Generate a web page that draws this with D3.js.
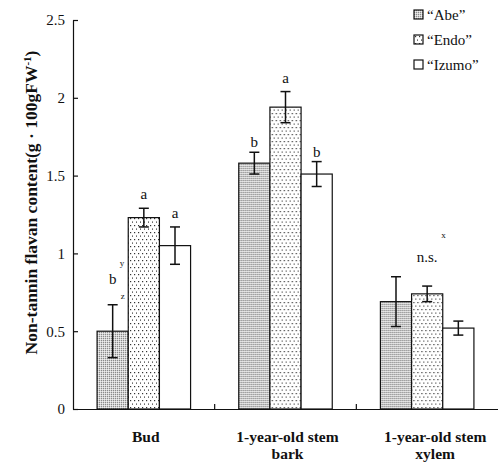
<!DOCTYPE html>
<html lang="en">
<head>
    <meta charset="UTF-8">
    <title>Non-tannin flavan content</title>
    <script src="https://d3js.org/d3.v7.min.js"></script>
    <style>
        body { margin: 0; background: #fff; }
        svg { display: block; }
        text { font-family: "Liberation Serif", "Times New Roman", serif; fill: #111; }
        .axis path, .axis line { stroke: #111; stroke-width: 1.2px; }
        .bar { stroke: #111; stroke-width: 1.2px; }
        .err { stroke: #111; stroke-width: 1.5px; }
    </style>
</head>
<body>
    <svg width="498" height="462"></svg>

    <script>
        // Data
        const tissues = ["Bud", "1-year-old stem bark", "1-year-old stem xylem"];
        const cultivars = ["Abe", "Endo", "Izumo"];
        const means = [
            [0.50, 1.23, 1.05],
            [1.58, 1.94, 1.51],
            [0.69, 0.74, 0.52]
        ];
        const errors = [
            [0.17, 0.06, 0.12],
            [0.07, 0.10, 0.08],
            [0.16, 0.05, 0.045]
        ];
        const letters = [
            ["b", "a", "a"],
            ["b", "a", "b"],
            ["", "", ""]
        ];
        const yTicks = [0, 0.5, 1, 1.5, 2, 2.5];

        const svg = d3.select("svg");
        const margin = { left: 73, top: 20, right: 0, bottom: 53 };
        const width = 498, height = 462;

        const x = d3.scaleBand().domain(tissues).range([margin.left, width]).padding(0);
        const xInner = d3.scaleBand().domain(cultivars)
            .range([x.bandwidth() * 0.17, x.bandwidth() * 0.83]).padding(0);
        const y = d3.scaleLinear().domain([0, 2.5]).range([height - margin.bottom, margin.top]);

        // Patterns
        const defs = svg.append("defs");
        const pAbe = defs.append("pattern").attr("id", "abe")
            .attr("width", 2).attr("height", 2).attr("patternUnits", "userSpaceOnUse");
        pAbe.append("rect").attr("width", 2).attr("height", 2).attr("fill", "#d2d2d2");
        pAbe.append("rect").attr("width", 1).attr("height", 1).attr("fill", "#8a8a8a");
        pAbe.append("rect").attr("x", 1).attr("y", 1).attr("width", 1).attr("height", 1).attr("fill", "#eeeeee");

        const pEndo = defs.append("pattern").attr("id", "endo")
            .attr("width", 4).attr("height", 7).attr("patternUnits", "userSpaceOnUse");
        pEndo.append("rect").attr("width", 4).attr("height", 7).attr("fill", "#fff");
        pEndo.append("rect").attr("x", 1).attr("y", 1).attr("width", 1.2).attr("height", 1.2).attr("fill", "#333");
        pEndo.append("rect").attr("x", 3).attr("y", 4.5).attr("width", 1.2).attr("height", 1.2).attr("fill", "#333");

        const fills = { Abe: "url(#abe)", Endo: "url(#endo)", Izumo: "#fff" };

        // Bars
        const groups = svg.append("g").selectAll("g")
            .data(tissues)
            .join("g")
            .attr("transform", d => `translate(${x(d)},0)`);

        groups.each(function (t, i) {
            const g = d3.select(this);
            cultivars.forEach((c, j) => {
                const v = means[i][j], e = errors[i][j];
                const bx = xInner(c), bw = xInner.bandwidth();
                g.append("rect").attr("class", "bar")
                    .attr("x", bx).attr("y", y(v))
                    .attr("width", bw).attr("height", y(0) - y(v))
                    .attr("fill", fills[c]);
                const cx = bx + bw / 2;
                g.append("line").attr("class", "err")
                    .attr("x1", cx).attr("x2", cx).attr("y1", y(v + e)).attr("y2", y(v - e));
                [v + e, v - e].forEach(w => {
                    g.append("line").attr("class", "err")
                        .attr("x1", cx - 5).attr("x2", cx + 5).attr("y1", y(w)).attr("y2", y(w));
                });
                if (letters[i][j]) {
                    g.append("text")
                        .attr("x", cx).attr("y", y(v + e) - (letters[i][j] === "a" ? 9 : 5) - (i === 0 && j === 0 ? 16 : 0))
                        .attr("text-anchor", "middle")
                        .attr("font-size", 15)
                        .attr("fill", "#111")
                        .text(letters[i][j]);
                }
            });
        });

        // Footnote superscripts
        const abeBud = x("Bud") + xInner("Abe") + xInner.bandwidth() / 2;
        svg.append("text").attr("x", abeBud + 8).attr("y", y(means[0][0] + errors[0][0]) - 6)
            .attr("font-size", 9).text("z");
        svg.append("text").attr("x", abeBud + 7).attr("y", y(means[0][0] + errors[0][0]) - 39)
            .attr("font-size", 9).text("y");
        const xylemC = x("1-year-old stem xylem") + x.bandwidth() / 2;
        svg.append("text").attr("x", xylemC).attr("y", y(0.9) - 7)
            .attr("text-anchor", "middle").attr("font-size", 15).text("n.s.");
        svg.append("text").attr("x", xylemC + 14).attr("y", y(1.1))
            .attr("font-size", 9).text("x");

        // Axes
        svg.append("g").attr("class", "axis")
            .attr("transform", `translate(${margin.left},0)`)
            .call(d3.axisLeft(y).tickValues(yTicks).tickFormat(d3.format("")).tickSizeInner(-5).tickSizeOuter(0))
            .call(g => g.selectAll("text").attr("x", -8).attr("font-size", 15)
                .attr("font-family", "Liberation Serif").attr("fill", "#111"));

        svg.append("g").attr("class", "axis")
            .attr("transform", `translate(0,${y(0)})`)
            .call(d3.axisBottom(x).tickValues([]).tickSizeOuter(0));

        // Boundary ticks between groups
        tissues.slice(1).forEach(t => {
            svg.append("line").attr("stroke", "#111").attr("stroke-width", 1.2)
                .attr("x1", x(t)).attr("x2", x(t)).attr("y1", y(0)).attr("y2", y(0) - 5);
        });

        // Category labels
        const catLines = [["Bud"], ["1-year-old stem", "bark"], ["1-year-old stem", "xylem"]];
        tissues.forEach((t, i) => {
            const cx = x(t) + x.bandwidth() / 2 + (i === 2 ? 8 : 2);
            const tx = svg.append("text")
                .attr("y", 442)
                .attr("text-anchor", "middle")
                .attr("font-size", 15.5).attr("font-weight", "bold");
            catLines[i].forEach((l, k) => {
                tx.append("tspan").attr("x", cx)
                    .attr("dy", k === 0 ? 0 : 17).text(l);
            });
        });

        // Y axis title
        const yl = svg.append("text")
            .attr("transform", `translate(37,${(y(0) + y(2.5)) / 2 - 12}) rotate(-90)`)
            .attr("text-anchor", "middle")
            .attr("font-size", 17.5).attr("font-weight", "bold");
        yl.append("tspan").text("Non-tannin flavan content(g \u00b7 100gFW");
        yl.append("tspan").attr("dy", -6).attr("font-size", 11).text("-1");
        yl.append("tspan").attr("dy", 6).text(")");

        // Legend
        const legend = svg.append("g").attr("transform", "translate(414,10)");
        cultivars.forEach((c, i) => {
            const lg = legend.append("g").attr("transform", `translate(0,${i * 25})`);
            lg.append("rect").attr("width", 9).attr("height", 9)
                .attr("fill", fills[c]).attr("stroke", "#111").attr("stroke-width", 1.2);
            lg.append("text").attr("x", 13).attr("y", 10).attr("font-size", 15)
                .text(`\u201c${c}\u201d`);
        });
    </script>
</body>
</html>
